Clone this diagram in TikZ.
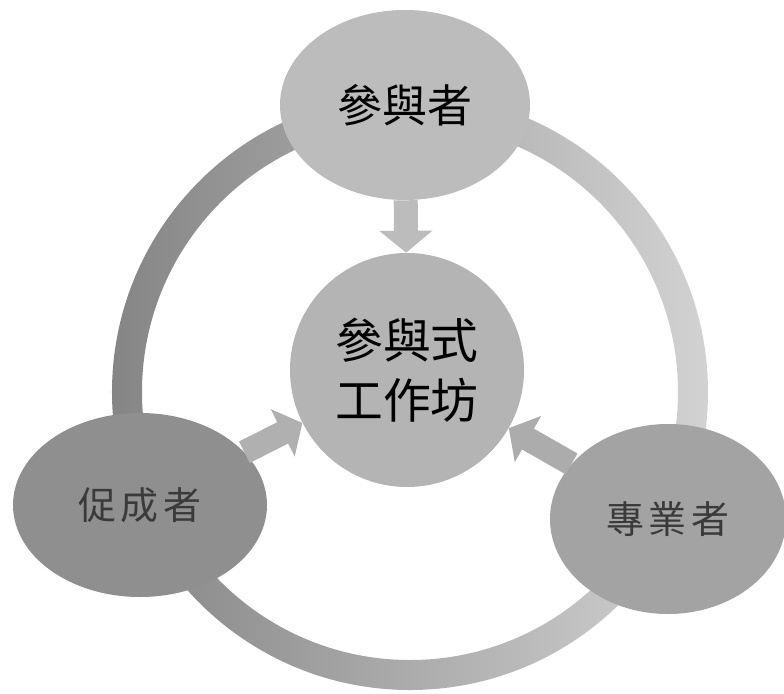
\documentclass[tikz,border=0pt]{standalone}
\usepackage{fontspec}
\newfontfamily\cjk{Noto Sans CJK TC}
\newfontfamily\cjkwide{Noto Sans CJK TC}[LetterSpace=12]
\usetikzlibrary{shapes.geometric,arrows.meta}
\definecolor{ringleft}{HTML}{858585}
\definecolor{ringright}{HTML}{D2D2D2}
\definecolor{topfill}{HTML}{BCBCBC}
\definecolor{hubfill}{HTML}{B4B4B4}
\definecolor{leftfill}{HTML}{8F8F8F}
\definecolor{rightfill}{HTML}{A3A3A3}
\definecolor{sidetext}{HTML}{3A3A3A}
\tikzset{
  role/.style={ellipse, inner sep=0pt, font=\cjk\fontsize{32}{38}\selectfont},
  siderole/.style={role, text=sidetext, font=\cjkwide\fontsize{27}{32}\selectfont},
  blockarrow/.style={line width=6mm, -{Triangle[width=13mm,length=5.5mm]}},
}
\begin{document}
\begin{tikzpicture}[x=0.25mm,y=-0.25mm]
\useasboundingbox (0,0) rectangle (784,694);
% ring round the three roles
\coordinate (ringc) at (410,392);
\shade[left color=ringleft, right color=ringright, even odd rule]
  (ringc) circle[radius=74.5mm] (ringc) circle[radius=67mm];
% roles
\node[role, fill=topfill, minimum width=62.5mm, minimum height=47.5mm] (part) at (405,105) {參與者};
\node[role, fill=hubfill, circle, minimum size=58.5mm, align=center,
  font=\cjk\fontsize{34}{43}\selectfont] (hub) at (407,370) {參與式\\工作坊};
\node[siderole, fill=leftfill, minimum width=63.5mm, minimum height=46mm] (facil) at (140,505) {促成者};
\node[siderole, fill=rightfill, minimum width=59mm, minimum height=47.5mm] (expert) at (668,519) {專業者};
% arrows into the workshop
\draw[blockarrow, color=topfill] (part) -- (hub);
\draw[blockarrow, color=gray!62] (facil) -- (hub);
\draw[blockarrow, color=gray!65] (expert) -- (hub);
\end{tikzpicture}
\end{document}
